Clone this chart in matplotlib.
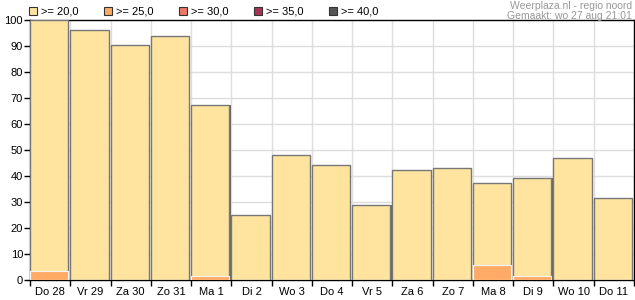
import matplotlib
matplotlib.use("Agg")
import matplotlib.pyplot as plt
from matplotlib.patches import Rectangle

plt.rcParams['font.family'] = ['Liberation Sans', 'DejaVu Sans']

# Data
days = ["Do 28", "Vr 29", "Za 30", "Zo 31", "Ma 1", "Di 2", "Wo 3", "Do 4",
        "Vr 5", "Za 6", "Zo 7", "Ma 8", "Di 9", "Wo 10", "Do 11"]
pct_20 = [100, 96, 90.5, 94, 67.3, 25, 48, 44.2, 28.8, 42.3, 43, 37.3, 39.2, 47, 31.5]
pct_25 = [3.5, 0, 0, 0, 1.5, 0, 0, 0, 0, 0, 0, 5.8, 1.5, 0, 0]

legend_labels = [">= 20,0", ">= 25,0", ">= 30,0", ">= 35,0", ">= 40,0"]
legend_colors = ["#FFE4A0", "#FFAA66", "#EE7766", "#AA3355", "#555555"]

W, H = 635, 300
fig = plt.figure(figsize=(W / 100, H / 100), dpi=100)
ax = fig.add_axes([30 / W, 20 / H, 604 / W, 260 / H])

n = len(days)
x = list(range(n))

# grid
for i in range(1, n):
    ax.axvline(i, color="#dddddd", lw=1, zorder=0)
for yv in range(10, 100, 10):
    ax.axhline(yv, color="#dddddd", lw=1, zorder=0)

w = 0.95
# shadow behind each bar
ax.bar([xi + 0.03 for xi in x], pct_20, width=w, align="edge",
       color="#666666", zorder=2, linewidth=0)
ax.bar(x, pct_20, width=w, align="edge", color=legend_colors[0],
       edgecolor="#777777", linewidth=1, zorder=3)
ax.bar(x, pct_25, width=w, align="edge", color=legend_colors[1],
       edgecolor="#f5f5f5", linewidth=0.8, zorder=4)

ax.set_xlim(0, n)
ax.set_ylim(0, 100)
ax.set_yticks(range(0, 101, 10))
ax.set_xticks([i + 0.5 for i in x])
ax.set_xticklabels(days)
ax.set_xticks(range(0, n + 1), minor=True)
ax.tick_params(axis="x", which="major", length=0, labelsize=8, pad=5)
ax.tick_params(axis="x", which="minor", length=4, width=1, direction="out")
ax.tick_params(axis="y", length=4, width=1, labelsize=8, pad=1)

for s in ax.spines.values():
    s.set_color("black")
    s.set_linewidth(1)

# legend row
lx = [29, 104, 179, 254, 329]
for px, lab, col in zip(lx, legend_labels, legend_colors):
    fig.patches.append(Rectangle((px / W, 1 - 15 / H), 8 / W, 8 / H,
                                 transform=fig.transFigure, facecolor=col,
                                 edgecolor="#333333", linewidth=0.8))
    fig.text((px + 12) / W, 1 - 11 / H, lab, fontsize=8, va="center", ha="left")

fig.text(632 / W, 1 - 1 / H, "Weerplaza.nl - regio noord", fontsize=7.5,
         color="#999999", ha="right", va="top")
fig.text(632 / W, 1 - 11 / H, "Gemaakt: wo 27 aug 21:01", fontsize=7.5,
         color="#999999", ha="right", va="top")

fig.savefig("out.png", dpi=100)
